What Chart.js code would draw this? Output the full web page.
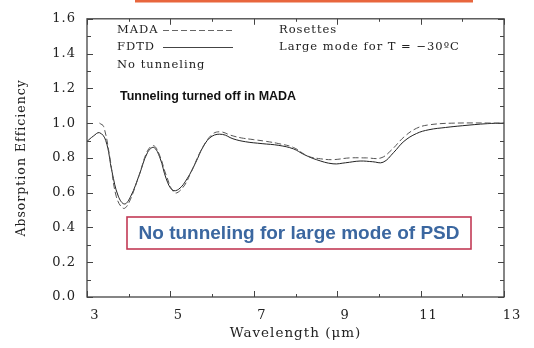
<!DOCTYPE html>
<html>
<head>
<meta charset="utf-8">
<script src="https://cdn.jsdelivr.net/npm/chart.js@4.4.1/dist/chart.umd.min.js"></script>
<style>
  html, body { margin: 0; padding: 0; background: #fff; }
  #wrap { width: 534px; height: 348px; position: relative; }
</style>
</head>
<body>
<div id="wrap"><canvas id="absChart"></canvas></div>
<script>
// FDTD (solid) and MADA without tunneling (dashed)
const fdtdWavelength = [3.0, 3.15, 3.3, 3.45, 3.6, 3.75, 3.9, 4.05, 4.25, 4.45, 4.6, 4.75, 4.9, 5.05, 5.2, 5.4, 5.6, 5.8, 6.0, 6.25, 6.5, 6.8, 7.2, 7.6, 7.95, 8.2, 8.5, 8.9, 9.2, 9.55, 9.85, 10.1, 10.35, 10.6, 10.9, 11.2, 11.6, 12.0, 12.6, 13.0];
const fdtdAbs = [0.895, 0.925, 0.945, 0.90, 0.72, 0.58, 0.535, 0.58, 0.70, 0.83, 0.86, 0.80, 0.68, 0.615, 0.62, 0.68, 0.77, 0.87, 0.925, 0.935, 0.91, 0.893, 0.882, 0.872, 0.852, 0.82, 0.79, 0.766, 0.772, 0.782, 0.778, 0.775, 0.83, 0.895, 0.94, 0.962, 0.975, 0.985, 0.997, 1.0];

const madaWavelength = [3.3, 3.4, 3.55, 3.7, 3.87, 4.0, 4.25, 4.45, 4.6, 4.75, 4.9, 5.1, 5.3, 5.5, 5.75, 6.0, 6.2, 6.45, 6.7, 7.0, 7.3, 7.6, 7.95, 8.3, 8.6, 8.9, 9.3, 9.7, 10.05, 10.3, 10.6, 10.9, 11.2, 11.8, 13.0];
const madaAbs = [1.0, 0.98, 0.80, 0.58, 0.51, 0.54, 0.70, 0.84, 0.87, 0.81, 0.70, 0.60, 0.63, 0.72, 0.85, 0.935, 0.95, 0.93, 0.915, 0.905, 0.895, 0.882, 0.86, 0.81, 0.795, 0.79, 0.80, 0.80, 0.80, 0.845, 0.92, 0.97, 0.99, 1.0, 1.0];

const xTickLabels = [3, 5, 7, 9, 11, 13];
const xMinorTicks = [4, 6, 8, 10, 12];
const yTickLabels = [0, 0.2, 0.4, 0.6, 0.8, 1.0, 1.2, 1.4, 1.6];
const yMinorTicks = [0.1, 0.3, 0.5, 0.7, 0.9, 1.1, 1.3, 1.5];

const serif = '"DejaVu Serif", "Liberation Serif", serif';
const sans = '"Liberation Sans", Arial, sans-serif';

function toPoints(xs, ys) {
  return xs.map((x, i) => ({ x: x, y: ys[i] }));
}

// the old plot font is spaced out, so widen the serif text a bit
const spacing = {
  id: 'spacing',
  beforeDraw(chart) { chart.ctx.letterSpacing = '1px'; },
  afterDraw(chart) { chart.ctx.letterSpacing = '0px'; }
};

// frame, inward ticks, legend and annotation texts
const decor = {
  id: 'decor',
  afterDraw(chart) {
    const ctx = chart.ctx;
    const a = chart.chartArea;
    const xs = chart.scales.x, ys = chart.scales.y;
    ctx.save();
    ctx.strokeStyle = '#444';
    ctx.lineWidth = 1.3;
    ctx.strokeRect(a.left, a.top, a.right - a.left, a.bottom - a.top);

    ctx.lineWidth = 1;
    const xt = (v, len) => {
      const p = Math.round(xs.getPixelForValue(v)) + 0.5;
      ctx.beginPath();
      ctx.moveTo(p, a.bottom); ctx.lineTo(p, a.bottom - len);
      ctx.moveTo(p, a.top); ctx.lineTo(p, a.top + len);
      ctx.stroke();
    };
    const yt = (v, len) => {
      const p = Math.round(ys.getPixelForValue(v)) + 0.5;
      ctx.beginPath();
      ctx.moveTo(a.left, p); ctx.lineTo(a.left + len, p);
      ctx.moveTo(a.right, p); ctx.lineTo(a.right - len, p);
      ctx.stroke();
    };
    xTickLabels.forEach(v => xt(v, 6));
    xMinorTicks.forEach(v => xt(v, 3));
    yTickLabels.forEach(v => yt(v, 6));
    yMinorTicks.forEach(v => yt(v, 4));

    // legend
    ctx.fillStyle = '#222';
    ctx.font = '11.5px ' + serif;
    ctx.letterSpacing = '1px';
    ctx.textBaseline = 'middle';
    ctx.textAlign = 'left';
    ctx.fillText('MADA', 117, 30);
    ctx.fillText('FDTD', 117, 47);
    ctx.fillText('No tunneling', 117, 65);
    ctx.fillText('Rosettes', 279, 30);
    ctx.fillText('Large mode for T = \u221230\u00baC', 279, 47);
    ctx.letterSpacing = '0px';

    ctx.strokeStyle = '#666';
    ctx.setLineDash([6, 3]);
    ctx.beginPath(); ctx.moveTo(163, 30.5); ctx.lineTo(233, 30.5); ctx.stroke();
    ctx.setLineDash([]);
    ctx.strokeStyle = '#444';
    ctx.beginPath(); ctx.moveTo(163, 47.5); ctx.lineTo(233, 47.5); ctx.stroke();

    ctx.fillStyle = '#111';
    ctx.font = 'bold 12.5px ' + sans;
    ctx.fillText('Tunneling turned off in MADA', 120, 97);

    // highlighted note
    ctx.fillStyle = '#fff';
    ctx.fillRect(127, 217, 344, 32);
    ctx.strokeStyle = '#c23a55';
    ctx.lineWidth = 1.6;
    ctx.strokeRect(127, 217, 344, 32);
    ctx.fillStyle = '#3b67a0';
    ctx.font = 'bold 19px ' + sans;
    ctx.textAlign = 'center';
    ctx.fillText('No tunneling for large mode of PSD', 299, 234);

    // edge of the box above the plot
    ctx.fillStyle = '#e8663d';
    ctx.fillRect(135, 0, 338, 2.5);
    ctx.restore();
  }
};

const ctx = document.getElementById('absChart').getContext('2d');

const chart = new Chart(ctx, {
  type: 'line',
  data: {
    datasets: [
      {
        label: 'MADA',
        data: toPoints(madaWavelength, madaAbs),
        borderColor: '#555',
        borderWidth: 1,
        borderDash: [6, 3],
        pointRadius: 0,
        tension: 0.4,
        fill: false
      },
      {
        label: 'FDTD',
        data: toPoints(fdtdWavelength, fdtdAbs),
        borderColor: '#222',
        borderWidth: 1,
        pointRadius: 0,
        tension: 0.4,
        fill: false
      }
    ]
  },
  options: {
    responsive: true,
    maintainAspectRatio: false,
    animation: false,
    layout: { padding: { top: 13, right: 30, left: 0, bottom: 0 } },
    plugins: { legend: { display: false }, tooltip: { enabled: false } },
    scales: {
      x: {
        type: 'linear',
        min: 3,
        max: 13,
        grid: { display: false, drawTicks: false },
        border: { display: false },
        afterBuildTicks: s => { s.ticks = xTickLabels.map(v => ({ value: v })); },
        afterFit: s => { s.height = 51; },
        ticks: {
          color: '#222',
          font: { family: serif, size: 13 },
          padding: 11,
          labelOffset: 8,
          maxRotation: 0,
          autoSkip: false
        },
        title: {
          display: true,
          text: 'Wavelength (\u03bcm)',
          color: '#222',
          font: { family: serif, size: 13.5 },
          padding: { top: 0, bottom: 6 }
        }
      },
      y: {
        min: 0,
        max: 1.6,
        grid: { display: false, drawTicks: false },
        border: { display: false },
        afterBuildTicks: s => { s.ticks = yTickLabels.map(v => ({ value: v })); },
        afterFit: s => { s.width = 87; },
        ticks: {
          color: '#222',
          font: { family: serif, size: 13 },
          padding: 11,
          callback: v => v.toFixed(1)
        },
        title: {
          display: true,
          text: 'Absorption Efficiency',
          color: '#222',
          font: { family: serif, size: 12.5 },
          padding: { top: 14, bottom: 0 }
        }
      }
    }
  },
  plugins: [spacing, decor]
});
</script>
</body>
</html>
